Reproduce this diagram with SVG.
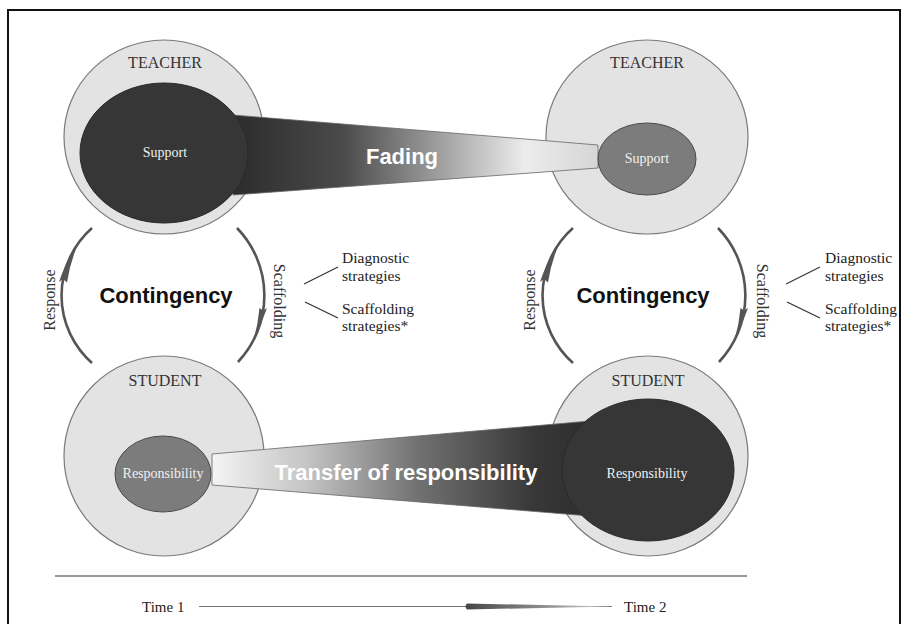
<svg xmlns="http://www.w3.org/2000/svg" width="909" height="624" viewBox="0 0 909 624">
  <defs>
    <linearGradient id="gFade" gradientUnits="userSpaceOnUse" x1="233" y1="0" x2="598" y2="0">
      <stop offset="0" stop-color="#2c2c2c"/>
      <stop offset="0.3" stop-color="#4a4a4a"/>
      <stop offset="0.55" stop-color="#9a9a9a"/>
      <stop offset="0.8" stop-color="#ececec"/>
      <stop offset="1" stop-color="#d6d6d6"/>
    </linearGradient>
    <linearGradient id="gTransfer" gradientUnits="userSpaceOnUse" x1="212" y1="0" x2="590" y2="0">
      <stop offset="0" stop-color="#f4f4f4"/>
      <stop offset="0.25" stop-color="#c4c4c4"/>
      <stop offset="0.55" stop-color="#707070"/>
      <stop offset="0.85" stop-color="#383838"/>
      <stop offset="1" stop-color="#2e2e2e"/>
    </linearGradient>
    <linearGradient id="gTime" gradientUnits="userSpaceOnUse" x1="464" y1="0" x2="612" y2="0">
      <stop offset="0" stop-color="#444"/>
      <stop offset="1" stop-color="#cfcfcf"/>
    </linearGradient>
  </defs>
  <style>
    .outer { fill: #e3e3e3; stroke: #7a7a7a; stroke-width: 1.2; }
    .dark { fill: #363636; stroke: #2a2a2a; stroke-width: 1; }
    .mid { fill: #7c7c7c; stroke: #4a4a4a; stroke-width: 1; }
    .role { font-family: "Liberation Serif", serif; font-size: 16px; fill: #333; text-anchor: middle; }
    .inner { font-family: "Liberation Serif", serif; font-size: 14px; fill: #f0f0f0; text-anchor: middle; }
    .big { font-family: "Liberation Sans", Arial, sans-serif; font-weight: bold; font-size: 22px; text-anchor: middle; }
    .side { font-family: "Liberation Serif", serif; font-size: 16px; fill: #333; text-anchor: middle; }
    .note { font-family: "Liberation Serif", serif; font-size: 15.5px; fill: #222; }
    .arc { fill: none; stroke: #555; stroke-width: 2.6; }
    .head { fill: #555; }
    .tick { stroke: #333; stroke-width: 1.2; }
    .time { font-family: "Liberation Serif", serif; font-size: 15px; fill: #222; }
  </style>

  <rect x="0" y="0" width="909" height="624" fill="#fff"/>
  <path d="M8,624 V10 H900 V624" fill="none" stroke="#111" stroke-width="2"/>

  <!-- outer ellipses -->
  <g id="teacher1">
    <ellipse class="outer" cx="164" cy="137" rx="100" ry="97"/>
    <text class="role" x="165" y="68">TEACHER</text>
  </g>
  <g id="teacher2">
    <ellipse class="outer" cx="647" cy="137" rx="101" ry="97"/>
    <text class="role" x="647" y="68">TEACHER</text>
  </g>
  <g id="student1">
    <ellipse class="outer" cx="164" cy="456" rx="100" ry="100"/>
    <text class="role" x="165" y="386">STUDENT</text>
  </g>
  <g id="student2">
    <ellipse class="outer" cx="648" cy="456" rx="100" ry="100"/>
    <text class="role" x="648" y="386">STUDENT</text>
  </g>

  <!-- bands and connectors -->
  <g id="connectors">
    <polygon points="233,115 598,145 598,168 233,195" fill="url(#gFade)" stroke="#666" stroke-width="0.8"/>
    <polygon points="212,454 590,421 590,516 212,485" fill="url(#gTransfer)" stroke="#666" stroke-width="0.8"/>

    <!-- left contingency cycle -->
    <path class="arc" d="M92,363 A90,90 0 0 1 92,228"/>
    <path class="head" d="M78.5,243 Q67,258 59,282 L63,279 L67,282.5 Q70,262 78.5,243 Z"/>
    <path class="arc" d="M237,228 A97,97 0 0 1 238,362"/>
    <path class="head" d="M254,338 Q262,323 267,308 L263,310.5 L259.5,308 Q258,324 254,338 Z"/>
    <line class="tick" x1="304" y1="284" x2="338" y2="267"/>
    <line class="tick" x1="305" y1="302" x2="338" y2="318"/>

    <!-- right contingency cycle -->
    <g transform="translate(481,0)">
      <path class="arc" d="M92,363 A90,90 0 0 1 92,228"/>
      <path class="head" d="M78.5,243 Q67,258 59,282 L63,279 L67,282.5 Q70,262 78.5,243 Z"/>
      <path class="arc" d="M237,228 A97,97 0 0 1 238,362"/>
      <path class="head" d="M254,338 Q262,323 267,308 L263,310.5 L259.5,308 Q258,324 254,338 Z"/>
      <line class="tick" x1="305" y1="284" x2="339" y2="267"/>
      <line class="tick" x1="306" y1="302" x2="339" y2="318"/>
    </g>

    <!-- time axis -->
    <line x1="55" y1="576" x2="747" y2="576" stroke="#9a9a9a" stroke-width="2"/>
    <line x1="199" y1="606.5" x2="612" y2="606.5" stroke="#777" stroke-width="1.2"/>
    <path d="M467,603.5 L612,606.5 L467,609.5 Q464,606.5 467,603.5 Z" fill="url(#gTime)"/>
  </g>

  <!-- inner ellipses -->
  <g id="support1">
    <ellipse class="dark" cx="164" cy="153" rx="84" ry="70"/>
    <text class="inner" x="165" y="157">Support</text>
  </g>
  <g id="support2">
    <ellipse class="mid" cx="647" cy="159" rx="49" ry="36"/>
    <text class="inner" x="647" y="163" fill="#ddd">Support</text>
  </g>
  <g id="responsibility1">
    <ellipse class="mid" cx="163" cy="474" rx="48" ry="38"/>
    <text class="inner" x="163" y="478" font-size="13.5">Responsibility</text>
  </g>
  <g id="responsibility2">
    <ellipse class="dark" cx="648" cy="470" rx="86" ry="71"/>
    <text class="inner" x="647" y="478" font-size="13.5">Responsibility</text>
  </g>

  <!-- labels -->
  <g id="labels">
    <text class="big" x="402" y="164" fill="#fff">Fading</text>
    <text class="big" x="406" y="480" fill="#fff">Transfer of responsibility</text>
    <text class="big" x="166" y="303" fill="#111">Contingency</text>
    <text class="big" x="643" y="303" fill="#111">Contingency</text>
    <text class="side" transform="translate(55,300) rotate(-90)">Response</text>
    <text class="side" transform="translate(274,301) rotate(90)">Scaffolding</text>
    <text class="side" transform="translate(535,300) rotate(-90)">Response</text>
    <text class="side" transform="translate(757,301) rotate(90)">Scaffolding</text>
    <text class="note" x="342" y="263">Diagnostic</text>
    <text class="note" x="342" y="281">strategies</text>
    <text class="note" x="342" y="314">Scaffolding</text>
    <text class="note" x="342" y="331">strategies*</text>
    <text class="note" x="825" y="263">Diagnostic</text>
    <text class="note" x="825" y="281">strategies</text>
    <text class="note" x="825" y="314">Scaffolding</text>
    <text class="note" x="825" y="331">strategies*</text>
    <text class="time" x="142" y="612">Time 1</text>
    <text class="time" x="624" y="612">Time 2</text>
  </g>
</svg>
